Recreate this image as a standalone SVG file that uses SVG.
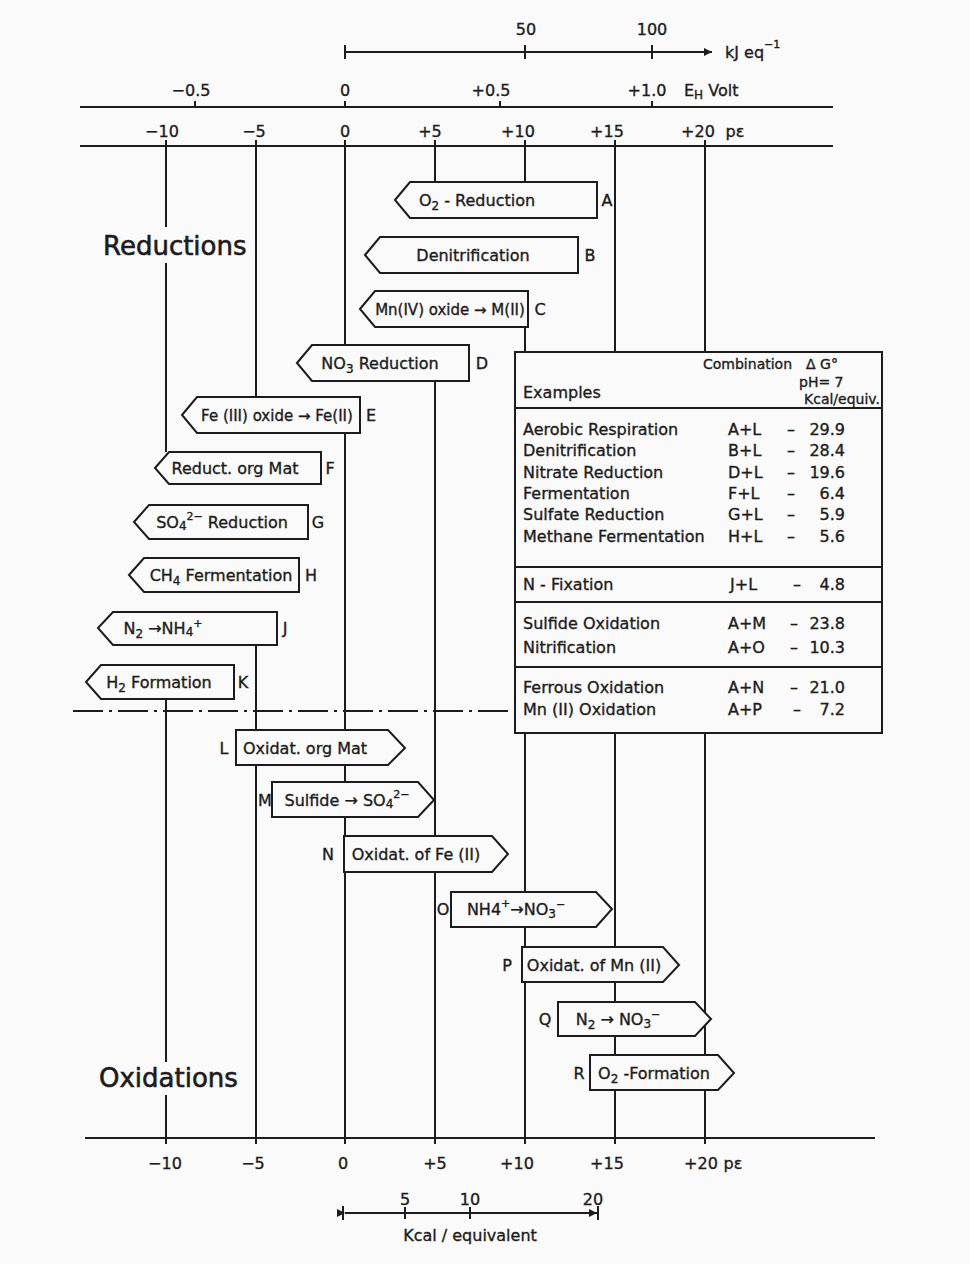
<svg xmlns="http://www.w3.org/2000/svg" width="970" height="1264" viewBox="0 0 970 1264">
<style>
.ln{stroke:#1c1c1c;stroke-width:2;fill:none}
.bx{fill:#fafafa;stroke:#1c1c1c;stroke-width:2;stroke-linejoin:miter}
.t{font-family:'DejaVu Sans','Liberation Sans',sans-serif;font-size:16px;fill:#1c1c1c;stroke:#1c1c1c;stroke-width:0.35}
.m{text-anchor:middle}
.e{text-anchor:end}
.big{font-size:26px;stroke-width:0.6}
.sm{font-size:15px}
.hd{font-size:14px}
.sb{font-size:12px}
.sp{font-size:11px}
.dd{stroke-dasharray:30 6 3 6}
</style>
<defs>
<marker id="ah" viewBox="0 0 10 10" refX="10" refY="5" markerWidth="12" markerHeight="8" markerUnits="userSpaceOnUse" orient="auto"><path d="M0,0 L10,5 L0,10 Z" fill="#1c1c1c"/></marker>
</defs>
<rect x="0" y="0" width="970" height="1264" fill="#fafafa"/>

<g id="axes">
<line class="ln" x1="345" y1="52" x2="712" y2="52" marker-end="url(#ah)"/>
<line class="ln" x1="345" y1="45" x2="345" y2="59"/>
<line class="ln" x1="525" y1="45" x2="525" y2="59"/>
<line class="ln" x1="652" y1="45" x2="652" y2="59"/>
<text class="t m" x="526" y="35">50</text>
<text class="t m" x="652" y="35">100</text>
<text class="t" x="725" y="58">kJ eq<tspan class="sp" dy="-10">−1</tspan></text>
<line class="ln" x1="80" y1="107" x2="833" y2="107"/>
<line class="ln" x1="195" y1="101" x2="195" y2="107"/>
<line class="ln" x1="345" y1="101" x2="345" y2="107"/>
<line class="ln" x1="500" y1="101" x2="500" y2="107"/>
<line class="ln" x1="652" y1="101" x2="652" y2="107"/>
<text class="t m" x="191" y="96">−0.5</text>
<text class="t m" x="345" y="96">0</text>
<text class="t m" x="491" y="96">+0.5</text>
<text class="t m" x="647" y="96">+1.0</text>
<text class="t" x="684" y="96">E<tspan class="sb" dy="3">H</tspan><tspan dy="-3"> Volt</tspan></text>
<line class="ln" x1="80" y1="146" x2="833" y2="146"/>
<text class="t m" x="162" y="137">−10</text>
<text class="t m" x="254" y="137">−5</text>
<text class="t m" x="345" y="137">0</text>
<text class="t m" x="430" y="137">+5</text>
<text class="t m" x="518" y="137">+10</text>
<text class="t m" x="607" y="137">+15</text>
<text class="t m" x="698" y="137">+20</text>
<text class="t m" x="735" y="137">pε</text>
<line class="ln" x1="85" y1="1138" x2="875" y2="1138"/>
<g class="ln">
<line x1="166" y1="1138" x2="166" y2="1144"/>
<line x1="256" y1="1138" x2="256" y2="1144"/>
<line x1="345" y1="1138" x2="345" y2="1144"/>
<line x1="435" y1="1138" x2="435" y2="1144"/>
<line x1="525" y1="1138" x2="525" y2="1144"/>
<line x1="615" y1="1138" x2="615" y2="1144"/>
<line x1="705" y1="1138" x2="705" y2="1144"/>
</g>
<text class="t m" x="165" y="1169">−10</text>
<text class="t m" x="253" y="1169">−5</text>
<text class="t m" x="343" y="1169">0</text>
<text class="t m" x="435" y="1169">+5</text>
<text class="t m" x="517" y="1169">+10</text>
<text class="t m" x="607" y="1169">+15</text>
<text class="t m" x="701" y="1169">+20</text>
<text class="t m" x="733" y="1169">pε</text>
<line class="ln" x1="345" y1="1213" x2="597" y2="1213" marker-end="url(#ah)" marker-start="url(#ah)"/>
<line class="ln" x1="343" y1="1206" x2="343" y2="1220"/>
<line class="ln" x1="598" y1="1206" x2="598" y2="1220"/>
<line class="ln" x1="405" y1="1207" x2="405" y2="1219"/>
<line class="ln" x1="470" y1="1207" x2="470" y2="1219"/>
<text class="t m" x="405" y="1205">5</text>
<text class="t m" x="470" y="1205">10</text>
<text class="t m" x="593" y="1205">20</text>
<text class="t m" x="470" y="1241">Kcal / equivalent</text>
</g>

<g id="connectors" class="ln">
<line x1="166" y1="140" x2="166" y2="227"/>
<line x1="166" y1="263" x2="166" y2="452"/>
<line x1="256" y1="140" x2="256" y2="397"/>
<line x1="345" y1="140" x2="345" y2="345"/>
<line x1="435" y1="140" x2="435" y2="182"/>
<line x1="525" y1="140" x2="525" y2="182"/>
<line x1="615" y1="140" x2="615" y2="352"/>
<line x1="705" y1="140" x2="705" y2="352"/>
<line x1="525" y1="327" x2="525" y2="352"/>
<line x1="345" y1="433" x2="345" y2="730"/>
<line x1="435" y1="381" x2="435" y2="836"/>
<line x1="256" y1="645" x2="256" y2="730"/>
<line x1="256" y1="765" x2="256" y2="1138"/>
<line x1="166" y1="699" x2="166" y2="1062"/>
<line x1="166" y1="1095" x2="166" y2="1138"/>
<line x1="345" y1="765" x2="345" y2="1138"/>
<line x1="435" y1="872" x2="435" y2="1138"/>
<line x1="525" y1="733" x2="525" y2="1138"/>
<line x1="615" y1="733" x2="615" y2="1138"/>
<line x1="705" y1="733" x2="705" y2="1138"/>
<line class="dd" x1="73" y1="711" x2="515" y2="711"/>
</g>

<text class="t big" x="103" y="255">Reductions</text>
<text class="t big" x="99" y="1087">Oxidations</text>

<g id="nodeA"><polygon class="bx" points="395,200 410,182 597,182 597,218 410,218"/>
<text class="t m" x="477" y="206">O<tspan class="sb" dy="4">2</tspan><tspan dy="-4"> - Reduction</tspan></text><text class="t m" x="607" y="206">A</text></g>
<g id="nodeB"><polygon class="bx" points="365,255 380,237 578,237 578,273 380,273"/>
<text class="t m" x="473" y="261">Denitrification</text><text class="t m" x="590" y="261">B</text></g>
<g id="nodeC"><polygon class="bx" points="360,309 375,291 528,291 528,327 375,327"/>
<text class="t m sm" x="450" y="315">Mn(IV) oxide → M(II)</text><text class="t m" x="540" y="315">C</text></g>
<g id="nodeD"><polygon class="bx" points="297,363 312,345 469,345 469,381 312,381"/>
<text class="t m" x="380" y="369">NO<tspan class="sb" dy="4">3</tspan><tspan dy="-4"> Reduction</tspan></text><text class="t m" x="482" y="369">D</text></g>
<g id="nodeE"><polygon class="bx" points="182,415 197,397 360,397 360,433 197,433"/>
<text class="t m sm" x="277" y="421">Fe (III) oxide → Fe(II)</text><text class="t m" x="371" y="421">E</text></g>
<g id="nodeF"><polygon class="bx" points="155,468 169,452 321,452 321,484 169,484"/>
<text class="t m" x="235" y="474">Reduct. org Mat</text><text class="t m" x="330" y="474">F</text></g>
<g id="nodeG"><polygon class="bx" points="134,522 149,505 308,505 308,539 149,539"/>
<text class="t m" x="222" y="528">SO<tspan class="sb" dy="2">4</tspan><tspan class="sp" dy="-10">2−</tspan><tspan dy="8"> Reduction</tspan></text><text class="t m" x="318" y="528">G</text></g>
<g id="nodeH"><polygon class="bx" points="129,575 144,558 299,558 299,592 144,592"/>
<text class="t m" x="221" y="581">CH<tspan class="sb" dy="4">4</tspan><tspan dy="-4"> Fermentation</tspan></text><text class="t m" x="311" y="581">H</text></g>
<g id="nodeJ"><polygon class="bx" points="98,628 113,612 277,612 277,645 113,645"/>
<text class="t m" x="163" y="634">N<tspan class="sb" dy="4">2</tspan><tspan dy="-4"> →NH</tspan><tspan class="sb" dy="2">4</tspan><tspan class="sp" dy="-9">+</tspan></text><text class="t m" x="285" y="634">J</text></g>
<g id="nodeK"><polygon class="bx" points="86,682 101,665 234,665 234,699 101,699"/>
<text class="t m" x="159" y="688">H<tspan class="sb" dy="4">2</tspan><tspan dy="-4"> Formation</tspan></text><text class="t m" x="243" y="688">K</text></g>

<g id="nodeL"><polygon class="bx" points="236,730 388,730 405,748 388,765 236,765"/>
<text class="t m" x="305" y="754">Oxidat. org Mat</text><text class="t m" x="224" y="754">L</text></g>
<g id="nodeM"><polygon class="bx" points="272,782 418,782 434,800 418,817 272,817"/>
<text class="t m" x="347" y="806">Sulfide → SO<tspan class="sb" dy="2">4</tspan><tspan class="sp" dy="-10">2−</tspan></text><text class="t m" x="265" y="806">M</text></g>
<g id="nodeN"><polygon class="bx" points="344,836 492,836 508,854 492,872 344,872"/>
<text class="t m" x="416" y="860">Oxidat. of Fe (II)</text><text class="t m" x="328" y="860">N</text></g>
<g id="nodeO"><polygon class="bx" points="451,892 596,892 612,909 596,927 451,927"/>
<text class="t m" x="516" y="915">NH4<tspan class="sp" dy="-8">+</tspan><tspan dy="8">→NO</tspan><tspan class="sb" dy="3">3</tspan><tspan class="sp" dy="-10">−</tspan></text><text class="t m" x="443" y="915">O</text></g>
<g id="nodeP"><polygon class="bx" points="522,947 663,947 679,965 663,982 522,982"/>
<text class="t m" x="594" y="971">Oxidat. of Mn (II)</text><text class="t m" x="507" y="971">P</text></g>
<g id="nodeQ"><polygon class="bx" points="558,1002 695,1002 711,1019 695,1036 558,1036"/>
<text class="t m" x="618" y="1025">N<tspan class="sb" dy="4">2</tspan><tspan dy="-4"> → NO</tspan><tspan class="sb" dy="3">3</tspan><tspan class="sp" dy="-10">−</tspan></text><text class="t m" x="545" y="1025">Q</text></g>
<g id="nodeR"><polygon class="bx" points="590,1055 718,1055 734,1073 718,1090 590,1090"/>
<text class="t m" x="654" y="1079">O<tspan class="sb" dy="4">2</tspan><tspan dy="-4"> -Formation</tspan></text><text class="t m" x="579" y="1079">R</text></g>

<g id="table">
<rect class="bx" x="515" y="352" width="367" height="381"/>
<g class="ln"><line x1="515" y1="408" x2="882" y2="408"/><line x1="515" y1="567" x2="882" y2="567"/><line x1="515" y1="602" x2="882" y2="602"/><line x1="515" y1="667" x2="882" y2="667"/></g>
<text class="t hd" x="703" y="369">Combination</text>
<text class="t hd" x="806" y="369">Δ G°</text>
<text class="t hd" x="799" y="387">pH= 7</text>
<text class="t" x="523" y="398">Examples</text>
<text class="t hd e" x="880" y="404">Kcal/equiv.</text>
<g class="t">
<text x="523" y="435">Aerobic Respiration</text><text x="728" y="435">A+L</text><text x="787" y="435">–</text><text class="e" x="845" y="435">29.9</text>
<text x="523" y="456">Denitrification</text><text x="728" y="456">B+L</text><text x="787" y="456">–</text><text class="e" x="845" y="456">28.4</text>
<text x="523" y="478">Nitrate Reduction</text><text x="728" y="478">D+L</text><text x="787" y="478">–</text><text class="e" x="845" y="478">19.6</text>
<text x="523" y="499">Fermentation</text><text x="728" y="499">F+L</text><text x="787" y="499">–</text><text class="e" x="845" y="499">6.4</text>
<text x="523" y="520">Sulfate Reduction</text><text x="728" y="520">G+L</text><text x="787" y="520">–</text><text class="e" x="845" y="520">5.9</text>
<text x="523" y="542">Methane Fermentation</text><text x="728" y="542">H+L</text><text x="787" y="542">–</text><text class="e" x="845" y="542">5.6</text>
<text x="523" y="590">N - Fixation</text><text x="730" y="590">J+L</text><text x="793" y="590">–</text><text class="e" x="845" y="590">4.8</text>
<text x="523" y="629">Sulfide Oxidation</text><text x="728" y="629">A+M</text><text x="790" y="629">–</text><text class="e" x="845" y="629">23.8</text>
<text x="523" y="653">Nitrification</text><text x="728" y="653">A+O</text><text x="790" y="653">–</text><text class="e" x="845" y="653">10.3</text>
<text x="523" y="693">Ferrous Oxidation</text><text x="728" y="693">A+N</text><text x="790" y="693">–</text><text class="e" x="845" y="693">21.0</text>
<text x="523" y="715">Mn (II) Oxidation</text><text x="728" y="715">A+P</text><text x="793" y="715">–</text><text class="e" x="845" y="715">7.2</text>
</g>
</g>
</svg>
